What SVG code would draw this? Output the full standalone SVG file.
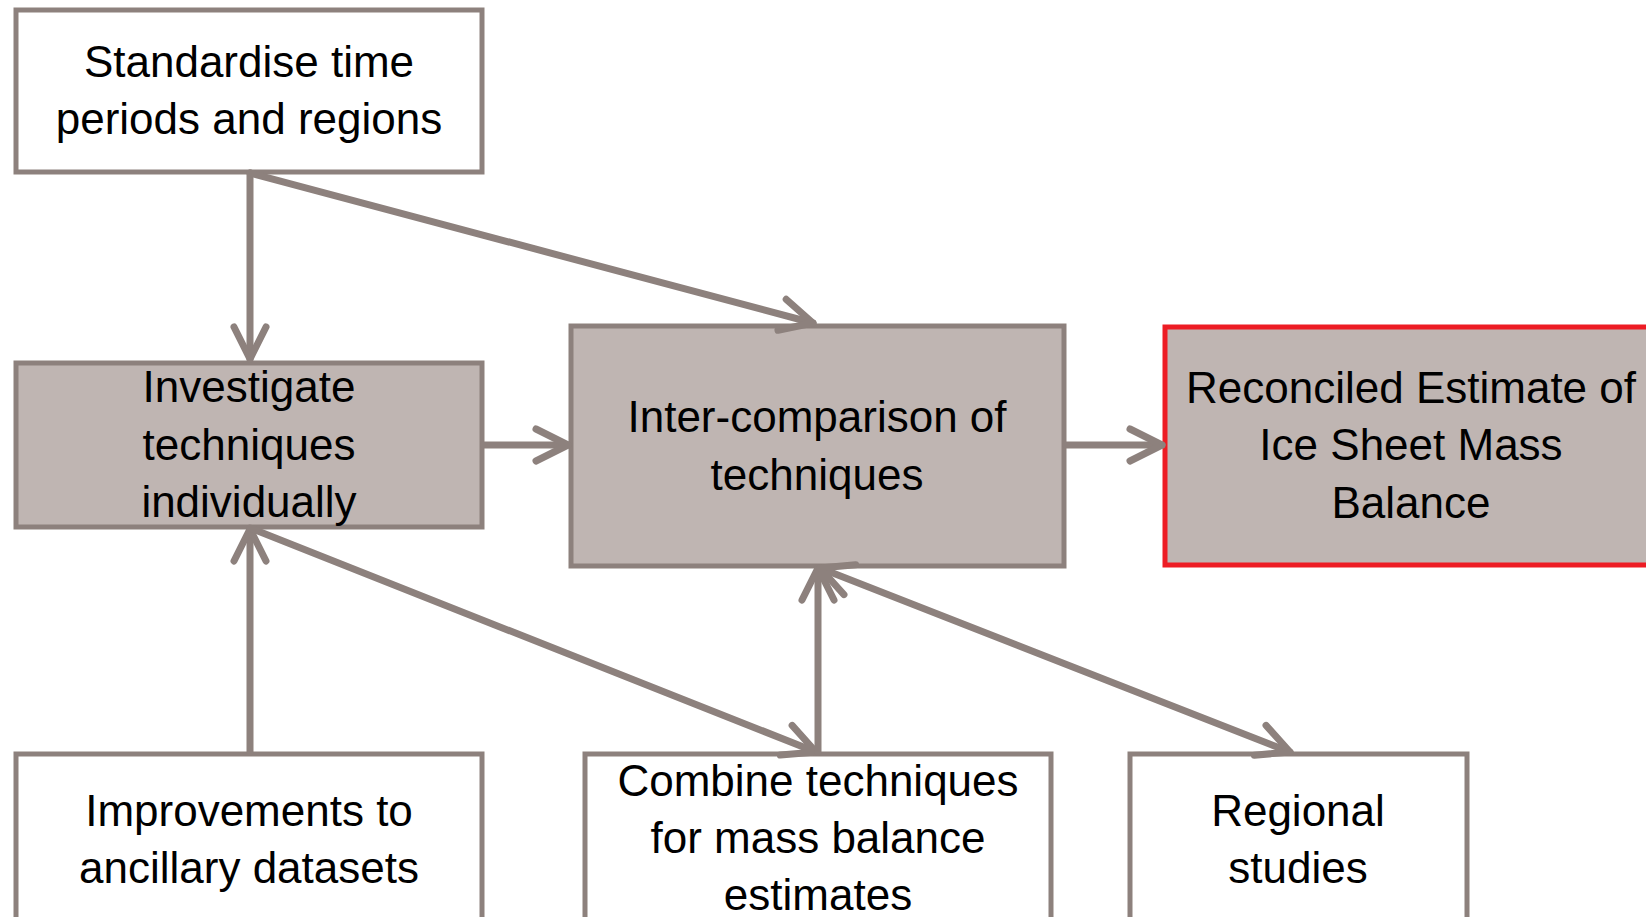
<svg xmlns="http://www.w3.org/2000/svg" width="1646" height="917" viewBox="0 0 1646 917">
  <style>
    .box { stroke: #8D817D; stroke-width: 5; }
    .plain { fill: #FFFFFF; }
    .shaded { fill: #BFB5B2; }
    .goal { fill: #BFB5B2; stroke: #ED1C24; stroke-width: 5; }
    .label { font-family: "Liberation Sans", Arial, sans-serif; font-size: 44px; fill: #000000; text-anchor: middle; }
    .link { fill: none; stroke: #8D817D; stroke-width: 7; stroke-linecap: round; }
  </style>
  <defs>
    <marker id="arrow" markerUnits="userSpaceOnUse" markerWidth="80" markerHeight="80" viewBox="-40 -40 80 80" refX="0" refY="0" orient="auto-start-reverse" overflow="visible">
      <path d="M -32 -16 L 0 0 L -32 16" fill="none" stroke="#8D817D" stroke-width="7" stroke-linecap="round" stroke-linejoin="round"/>
    </marker>
  </defs>
  <rect width="1646" height="917" fill="#FFFFFF"/>

  <!-- boxes -->
  <g id="standardise">
    <rect class="box plain" x="16" y="10" width="466" height="162"/>
    <text class="label" x="249" y="77">Standardise time</text>
    <text class="label" x="249" y="134">periods and regions</text>
  </g>
  <g id="investigate">
    <rect class="box shaded" x="16" y="363" width="466" height="164"/>
    <text class="label" x="249" y="402">Investigate</text>
    <text class="label" x="249" y="460">techniques</text>
    <text class="label" x="249" y="517">individually</text>
  </g>
  <g id="intercomparison">
    <rect class="box shaded" x="571" y="326" width="493" height="240"/>
    <text class="label" x="817" y="432">Inter-comparison of</text>
    <text class="label" x="817" y="490">techniques</text>
  </g>
  <g id="reconciled">
    <rect class="goal" x="1165" y="327" width="500" height="238"/>
    <text class="label" x="1411" y="403">Reconciled Estimate of</text>
    <text class="label" x="1411" y="460">Ice Sheet Mass</text>
    <text class="label" x="1411" y="518">Balance</text>
  </g>
  <g id="improvements">
    <rect class="box plain" x="16" y="754" width="466" height="180"/>
    <text class="label" x="249" y="826">Improvements to</text>
    <text class="label" x="249" y="883">ancillary datasets</text>
  </g>
  <g id="combine">
    <rect class="box plain" x="585" y="754" width="466" height="180"/>
    <text class="label" x="818" y="796">Combine techniques</text>
    <text class="label" x="818" y="853">for mass balance</text>
    <text class="label" x="818" y="910">estimates</text>
  </g>
  <g id="regional">
    <rect class="box plain" x="1130" y="754" width="337" height="180"/>
    <text class="label" x="1298" y="826">Regional</text>
    <text class="label" x="1298" y="883">studies</text>
  </g>

  <!-- connectors -->
  <g id="connectors">
    <path class="link" d="M 250 173 V 359" marker-end="url(#arrow)"/>
    <path class="link" d="M 250 173 L 813 323" marker-end="url(#arrow)"/>
    <path class="link" d="M 484 445 H 568" marker-end="url(#arrow)"/>
    <path class="link" d="M 1066 445 H 1162" marker-end="url(#arrow)"/>
    <path class="link" d="M 250 752 V 529" marker-end="url(#arrow)"/>
    <path class="link" d="M 250 528 L 816 752" marker-end="url(#arrow)"/>
    <path class="link" d="M 818 752 V 568" marker-end="url(#arrow)"/>
    <path class="link" d="M 820 568 L 1290 752" marker-start="url(#arrow)" marker-end="url(#arrow)"/>
  </g>
</svg>
